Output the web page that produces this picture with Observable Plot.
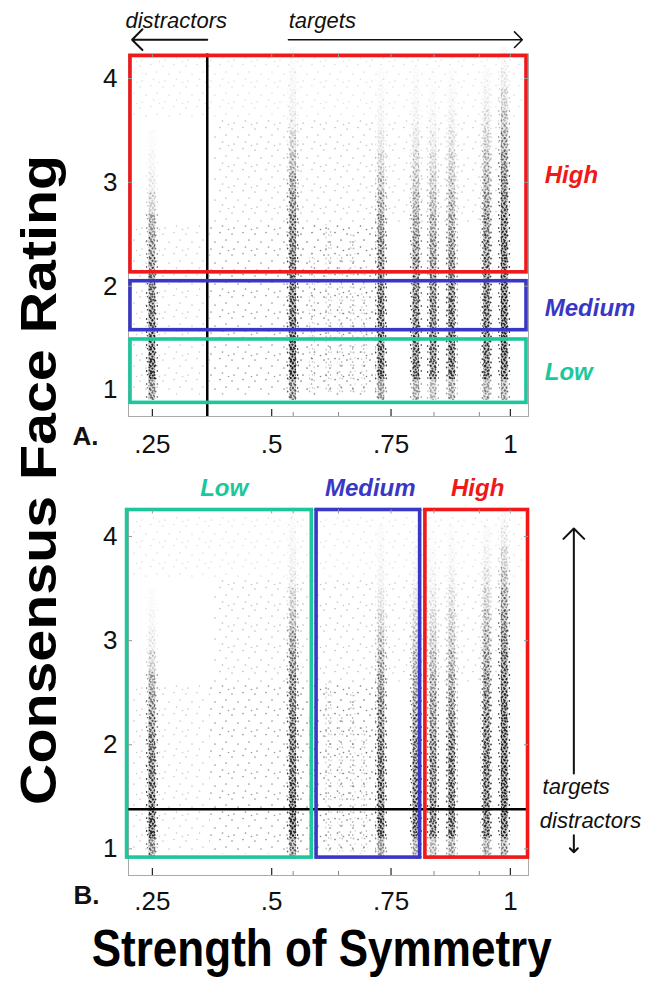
<!DOCTYPE html>
<html><head><meta charset="utf-8">
<script src="https://cdn.jsdelivr.net/npm/d3@7"></script>
<script src="https://cdn.jsdelivr.net/npm/@observablehq/plot@0.6"></script>
<style>
html,body{margin:0;padding:0;background:#fff;}
#wrap{position:relative;width:656px;height:989px;overflow:hidden;font-family:"Liberation Sans",Arial,Helvetica,sans-serif;}
#wrap svg{position:absolute;left:0;}
</style></head>
<body>
<svg width="0" height="0" style="position:absolute;left:0;top:0">
<defs>
<pattern id="speckDense" width="10" height="12" patternUnits="userSpaceOnUse">
<g fill="#111">
<circle cx="1" cy="1.2" r="1.2"/><circle cx="4.6" cy="0.4" r="1.15"/><circle cx="8.2" cy="1.8" r="1.2"/>
<circle cx="2.9" cy="3.6" r="1.15"/><circle cx="6.4" cy="3.3" r="1.15"/><circle cx="9.5" cy="5" r="1.05"/>
<circle cx="0.7" cy="6.1" r="1.15"/><circle cx="4.9" cy="6.2" r="1.2"/><circle cx="7.6" cy="7.6" r="1.15"/>
<circle cx="2.4" cy="8.6" r="1.15"/><circle cx="5.6" cy="9.6" r="1.05"/><circle cx="9" cy="10.4" r="1.15"/>
<circle cx="0.9" cy="11.2" r="1.05"/><circle cx="3.8" cy="11.6" r="0.9"/>
</g>
</pattern>
<pattern id="speckLight" width="11" height="13" patternUnits="userSpaceOnUse">
<g fill="#3a3a3a">
<circle cx="1.5" cy="1.5" r="0.95"/><circle cx="6.5" cy="3.5" r="0.95"/><circle cx="9.4" cy="8" r="0.95"/>
<circle cx="3.5" cy="7" r="0.95"/><circle cx="7" cy="11.5" r="0.9"/><circle cx="0.6" cy="11" r="0.9"/>
<circle cx="4.5" cy="10.8" r="0.8"/><circle cx="9.8" cy="1" r="0.8"/>
</g>
</pattern>
<pattern id="speckSparse" width="23" height="21" patternUnits="userSpaceOnUse">
<g fill="#555">
<circle cx="2" cy="3" r="0.85"/><circle cx="13" cy="1.5" r="0.85"/><circle cx="19" cy="9" r="0.85"/>
<circle cx="8" cy="11" r="0.85"/><circle cx="15.5" cy="16" r="0.85"/><circle cx="4" cy="18" r="0.85"/>
<circle cx="21.5" cy="19.5" r="0.8"/>
</g>
</pattern>
</defs></svg>
<div id="wrap"></div>
<script>
// ---------- data ----------
const xMajor = [0.25, 0.5, 0.75, 1];
const xMajorLabels = [".25", ".5", ".75", "1"];
const xMinor = [0.545, 0.64, 0.84, 0.935];
const yTicks = [1, 2, 3, 4];
const yTickLabels = ["1", "2", "3", "4"];

// symmetry levels (dense columns of jittered ratings)
const symmetryLevels = [0.25, 0.545, 0.73, 0.803, 0.839, 0.878, 0.951, 0.988];
// rating bin edges
const ratingEdges = [0.9,1.1,1.3,1.5,1.7,1.9,2.1,2.3,2.5,2.7,2.9,3.1,3.3,3.5,3.7,3.9,4.1,4.3];
// relative point density per rating bin for each symmetry level
const dens025 = [0.55,0.95,0.9,0.8,0.75,0.7,0.6,0.5,0.4,0.18,0.08,0.04,0.02,0,0,0,0];
const dens055 = [0.6,1,0.95,0.9,0.85,0.8,0.75,0.7,0.65,0.55,0.45,0.3,0.18,0.08,0.05,0.03,0.02];
const dens073 = [0.45,0.9,0.85,0.8,0.8,0.75,0.65,0.6,0.5,0.4,0.28,0.18,0.1,0.05,0.03,0.02,0];
const dens080 = [0.4,0.85,0.8,0.75,0.75,0.7,0.62,0.55,0.45,0.35,0.25,0.18,0.1,0.05,0.03,0.02,0];
const dens084 = [0.3,0.75,0.75,0.7,0.7,0.65,0.55,0.5,0.4,0.3,0.22,0.15,0.08,0.04,0.02,0.01,0];
const dens088 = [0.4,0.85,0.85,0.8,0.8,0.75,0.65,0.55,0.45,0.35,0.25,0.2,0.12,0.06,0.03,0.02,0];
const dens095 = [0.4,0.85,0.85,0.85,0.85,0.8,0.75,0.7,0.6,0.5,0.4,0.3,0.2,0.12,0.06,0.03,0];
const dens099 = [0.45,0.95,1,1,1,1,0.95,0.9,0.85,0.75,0.65,0.55,0.45,0.3,0.18,0.08,0.03];
const densities = [dens025, dens055, dens073, dens080, dens084, dens088, dens095, dens099];

// faint streaks between .55 and .75
const faintLevels = [0.585, 0.62, 0.645, 0.67, 0.695];
const faintTop = [2.3, 2.6, 2.3, 2.5, 2.2];
const faintDensity = [0.35, 0.35, 0.3, 0.35, 0.3];

// diffuse background scatter regions
const bgX1 = [0.21, 0.37, 0.56, 0.38, 0.74, 0.21];
const bgX2 = [0.36, 0.54, 0.72, 0.72, 1.0, 1.03];
const bgY1 = [0.95, 0.95, 0.95, 2.6, 2.6, 3.6];
const bgY2 = [2.6, 2.6, 2.6, 3.6, 3.6, 4.2];
const bgDensity = [0.10, 0.2, 0.25, 0.12, 0.1, 0.06];

// panel A: rating partitions
const boxNamesA = ["High", "Medium", "Low"];
const boxLoA = [2.114, 1.557, 0.857];
const boxHiA = [4.236, 2.067, 1.506];
const cutA = 0.365;           // distractor / target criterion (symmetry)

// panel B: symmetry partitions
const boxNamesB = ["Low", "Medium", "High"];
const boxX1B = [0.197, 0.594, 0.822];
const boxX2B = [0.584, 0.811, 1.037];
const cutB = 1.38;            // distractor / target criterion (rating)

// ---------- styles ----------
const catColor = {High: "#f01818", Medium: "#3a37c6", Low: "#1cc79b"};
const FONT = "Liberation Sans, Arial, Helvetica, sans-serif";

// ---------- derived tables ----------
const columnCells = symmetryLevels.flatMap((lv, i) =>
  densities[i].map((d, j) => ({x: lv, y1: ratingEdges[j], y2: ratingEdges[j + 1], d})).filter(c => c.d > 0));
const faintCells = faintLevels.map((lv, i) => ({x: lv, y1: 0.97, y2: faintTop[i], d: faintDensity[i]}));
const bgCells = bgX1.map((x1, i) => ({x1, x2: bgX2[i], y1: bgY1[i], y2: bgY2[i], d: bgDensity[i]}));

const CORE = 0.0068, HALO = 0.0125;
function scatterMarks() {
  return [
    Plot.rect(bgCells, {x1: "x1", x2: "x2", y1: "y1", y2: "y2", fill: "url(#speckSparse)", fillOpacity: d => Math.min(1, d.d * 3)}),
    Plot.rect(faintCells, {x1: d => d.x - HALO * 0.5, x2: d => d.x + HALO * 0.5, y1: "y1", y2: "y2", fill: "url(#speckLight)", fillOpacity: "d"}),
    Plot.rect(columnCells, {x1: d => d.x - HALO, x2: d => d.x + HALO, y1: "y1", y2: "y2", fill: "url(#speckLight)", fillOpacity: d => Math.min(1, d.d * 1.3)}),
    Plot.rect(columnCells, {x1: d => d.x - CORE, x2: d => d.x + CORE, y1: "y1", y2: "y2", fill: "#000", fillOpacity: d => d.d * 0.22}),
    Plot.rect(columnCells, {x1: d => d.x - CORE, x2: d => d.x + CORE, y1: "y1", y2: "y2", fill: "url(#speckDense)", fillOpacity: d => Math.min(1, d.d * 0.95)})
  ];
}
function axisMarks(frameH, labelDy) {
  return [
    Plot.ruleX(xMajor, {x: d => d, insetTop: frameH - 7, stroke: "#222", strokeWidth: 1.2}),
    Plot.ruleX(xMinor, {x: d => d, insetTop: frameH - 4, stroke: "#888"}),
    Plot.ruleX(xMajor.concat(xMinor), {x: d => d, insetBottom: frameH - 4, stroke: "#999"}),
    Plot.ruleY(yTicks, {y: d => d, insetLeft: 396, stroke: "#999"}),
    Plot.ruleY(yTicks, {y: d => d, insetRight: 396, stroke: "#999"}),
    Plot.text(xMajor, {x: d => d, text: (d, i) => xMajorLabels[i], frameAnchor: "bottom", dy: labelDy, lineAnchor: "middle", fontSize: 26, fill: "#111"}),
    Plot.text(yTicks, {y: d => d, text: (d, i) => yTickLabels[i], frameAnchor: "left", textAnchor: "end", dx: -11, lineAnchor: "middle", fontSize: 26, fill: "#111"})
  ];
}

const wrap = document.getElementById("wrap");

// ---------- Panel A ----------
const plotA = Plot.plot({
  width: 656, height: 460,
  marginLeft: 128, marginRight: 128, marginTop: 53.5, marginBottom: 44,
  x: {domain: [0.2, 1.038], axis: null},
  y: {domain: [0.745, 4.236], axis: null},
  opacity: {type: "identity"},
  color: {type: "identity"},
  style: {fontFamily: FONT, background: "transparent", overflow: "visible"},
  marks: [
    Plot.frame({stroke: "#aaa"}),
    ...scatterMarks(),
    Plot.ruleX([cutA], {x: d => d, stroke: "#000", strokeWidth: 2.5}),
    Plot.rect(boxNamesA, {x1: 0.2, x2: 1.038, y1: (d, i) => boxLoA[i], y2: (d, i) => boxHiA[i], fill: "none", stroke: d => catColor[d], strokeWidth: 3.6, inset: 2}),
    ...axisMarks(416 - 53.5, 28),
    Plot.text(["A."], {frameAnchor: "bottom-left", dx: -56, dy: 20, textAnchor: "start", lineAnchor: "middle", fontSize: 26, fontWeight: "bold", fill: "#111"}),
    Plot.text(boxNamesA, {x: 1.072, y: d => ({High: 3.07, Medium: 1.785, Low: 1.17})[d], text: d => d, textAnchor: "start", lineAnchor: "middle", fontSize: 24, fontWeight: "bold", fontStyle: "italic", fill: d => catColor[d]}),
    Plot.text(["distractors"], {x: 0.3, y: 4.55, text: d => d, lineAnchor: "middle", fontSize: 22, fontStyle: "italic", fill: "#111"}),
    Plot.text(["targets"], {x: 0.606, y: 4.55, text: d => d, lineAnchor: "middle", fontSize: 22, fontStyle: "italic", fill: "#111"}),
    Plot.arrow([0], {x1: cutA, y1: 4.374, x2: 0.2075, y2: 4.374, stroke: "#111", strokeWidth: 2, headLength: 11, headAngle: 90}),
    Plot.arrow([0], {x1: 0.535, y1: 4.374, x2: 1.025, y2: 4.374, stroke: "#111", strokeWidth: 1.5, headLength: 11, headAngle: 90})
  ]
});
plotA.style.top = "0px";
wrap.appendChild(plotA);

// ---------- Panel B ----------
const plotB = Plot.plot({
  width: 656, height: 470,
  marginLeft: 128, marginRight: 128, marginTop: 49.5, marginBottom: 55,
  x: {domain: [0.2, 1.038], axis: null},
  y: {domain: [0.744, 4.255], axis: null},
  opacity: {type: "identity"},
  color: {type: "identity"},
  style: {fontFamily: FONT, background: "transparent", overflow: "visible"},
  marks: [
    Plot.frame({stroke: "#aaa"}),
    ...scatterMarks(),
    Plot.ruleY([cutB], {y: d => d, stroke: "#000", strokeWidth: 2.5}),
    Plot.rect(boxNamesB, {x1: (d, i) => boxX1B[i], x2: (d, i) => boxX2B[i], y1: 0.916, y2: 4.255, fill: "none", stroke: d => catColor[d], strokeWidth: 3.6}),
    ...axisMarks(415 - 49.5, 26),
    Plot.text(["B."], {frameAnchor: "bottom-left", dx: -55, dy: 20, textAnchor: "start", lineAnchor: "middle", fontSize: 26, fontWeight: "bold", fill: "#111"}),
    Plot.text(boxNamesB, {x: (d, i) => (boxX1B[i] + boxX2B[i]) / 2 + ({Low: 0.01, Medium: 0.004, High: 0.002})[d], y: 4.46, text: d => d, lineAnchor: "middle", fontSize: 24, fontWeight: "bold", fontStyle: "italic", fill: d => catColor[d]}),
    Plot.text(["targets"], {x: 1.138, y: 1.59, text: d => d, lineAnchor: "middle", fontSize: 22, fontStyle: "italic", fill: "#111"}),
    Plot.text(["distractors"], {x: 1.168, y: 1.27, text: d => d, lineAnchor: "middle", fontSize: 22, fontStyle: "italic", fill: "#111"}),
    Plot.arrow([0], {x1: 1.133, y1: 1.725, x2: 1.133, y2: 4.077, stroke: "#111", strokeWidth: 2, headLength: 11, headAngle: 90}),
    Plot.arrow([0], {x1: 1.133, y1: 1.13, x2: 1.133, y2: 0.967, stroke: "#111", strokeWidth: 2, headLength: 10, headAngle: 90})
  ]
});
plotB.style.top = "460px";
wrap.appendChild(plotB);

// ---------- axis titles ----------
const ov = d3.select(wrap).append("svg")
  .attr("width", 656).attr("height", 989)
  .style("top", "0px").style("pointer-events", "none")
  .attr("font-family", FONT);
ov.append("text")
  .attr("x", 321.7).attr("y", 966)
  .attr("text-anchor", "middle").attr("font-size", 52).attr("font-weight", "bold").attr("fill", "#000")
  .attr("textLength", 460).attr("lengthAdjust", "spacingAndGlyphs")
  .text("Strength of Symmetry");
ov.append("text")
  .attr("transform", "translate(56,480) rotate(-90)")
  .attr("text-anchor", "middle").attr("font-size", 50).attr("font-weight", "bold").attr("fill", "#000")
  .attr("textLength", 650).attr("lengthAdjust", "spacingAndGlyphs")
  .text("Consensus Face Rating");
</script>
</body></html>
